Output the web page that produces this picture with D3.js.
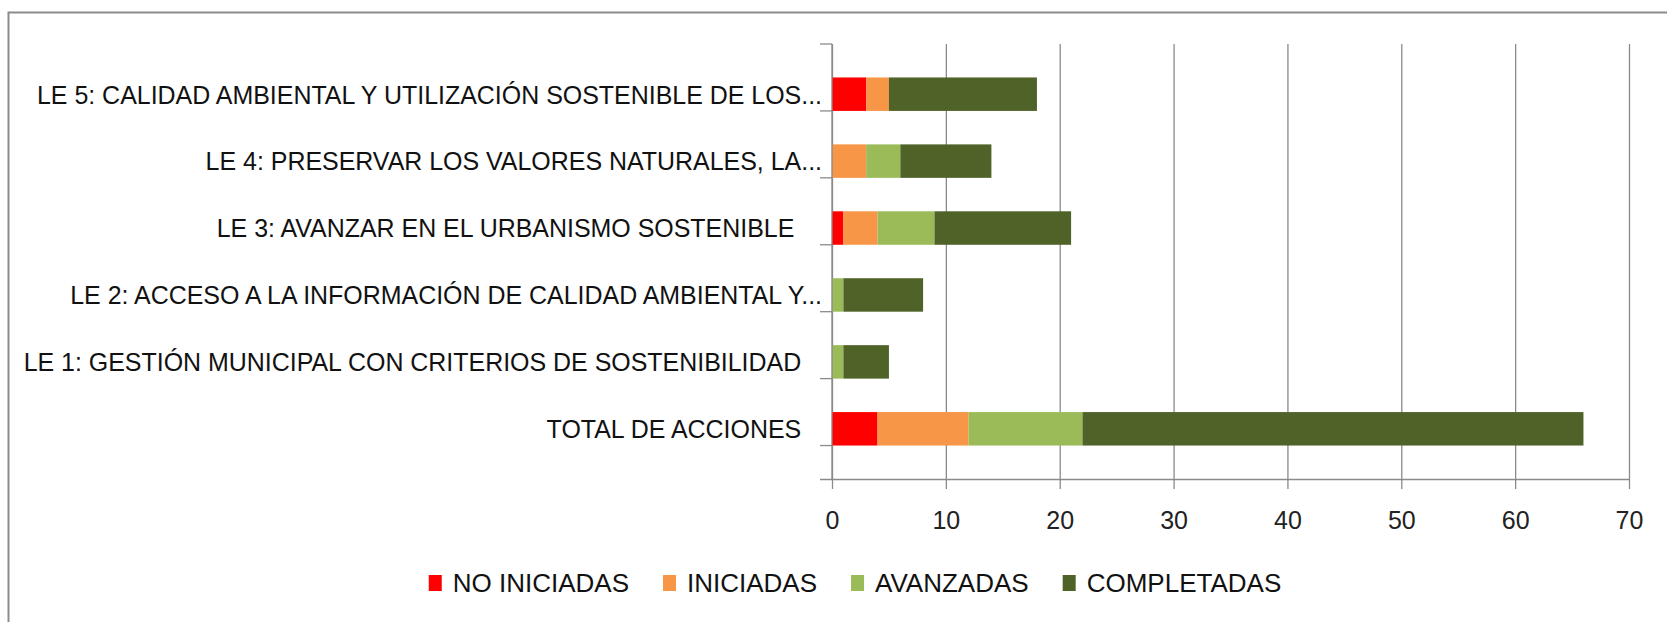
<!DOCTYPE html>
<html>
<head>
<meta charset="utf-8">
<script src="https://cdn.jsdelivr.net/npm/d3@7"></script>
<style>
  html, body { margin: 0; padding: 0; background: #fff; }
  svg { display: block; }
  .cat { font-family: "Liberation Sans Narrow", "Arial Narrow", "Liberation Sans", sans-serif; font-size: 26px; fill: #111; }
  .tick text { font-family: "Liberation Sans", Arial, sans-serif; font-size: 25px; fill: #222; }
  .legend text { font-family: "Liberation Sans Narrow", "Arial Narrow", "Liberation Sans", sans-serif; font-size: 26px; fill: #111; }
</style>
</head>
<body>
<div id="chart"></div>
<script>
// categorias (de arriba a abajo)
const categories = [
  'LE 5: CALIDAD AMBIENTAL Y UTILIZACIÓN SOSTENIBLE DE LOS...',
  'LE 4: PRESERVAR LOS VALORES NATURALES, LA...',
  'LE 3: AVANZAR EN EL URBANISMO SOSTENIBLE\u00a0\u00a0\u00a0\u00a0',
  'LE 2: ACCESO A LA INFORMACIÓN DE CALIDAD AMBIENTAL Y...',
  'LE 1: GESTIÓN MUNICIPAL CON CRITERIOS DE SOSTENIBILIDAD\u00a0\u00a0\u00a0',
  'TOTAL DE ACCIONES\u00a0\u00a0\u00a0'
];
const noIniciadas = [3, 0, 1, 0, 0, 4];
const iniciadas   = [2, 3, 3, 0, 0, 8];
const avanzadas   = [0, 3, 5, 1, 1, 10];
const completadas = [13, 8, 12, 7, 4, 44];
const seriesNames = ['NO INICIADAS', 'INICIADAS', 'AVANZADAS', 'COMPLETADAS'];
const colors = ['#ff0000', '#f79646', '#9bbb59', '#4f6228'];
const xTicks = [0, 10, 20, 30, 40, 50, 60, 70];

const width = 1667;
const height = 622;
const plotLeft = 832;
const plotRight = 1629;
const plotTop = 44;
const plotBottom = 479;

const rows = categories.map((c, i) => ({
  cat: c,
  [seriesNames[0]]: noIniciadas[i],
  [seriesNames[1]]: iniciadas[i],
  [seriesNames[2]]: avanzadas[i],
  [seriesNames[3]]: completadas[i]
}));
const stacked = d3.stack().keys(seriesNames)(rows);

const svg = d3.select('#chart').append('svg')
  .attr('width', width)
  .attr('height', height);

// marco
svg.append('rect')
  .attr('x', 8.5).attr('y', 12.5)
  .attr('width', width + 10).attr('height', height + 10)
  .attr('fill', 'none')
  .attr('stroke', '#8c8c8c')
  .attr('stroke-width', 2);

const x = d3.scaleLinear().domain([0, 70]).range([plotLeft, plotRight]);
const y = d3.scaleBand().domain(categories).range([plotTop, plotBottom]).padding(0.5);

// rejilla
svg.append('g')
  .attr('transform', `translate(0, ${plotBottom})`)
  .call(d3.axisBottom(x).tickValues(xTicks).tickSize(-(plotBottom - plotTop)).tickFormat(''))
  .call(g => g.select('.domain').remove())
  .call(g => g.selectAll('line').attr('stroke', '#8a8a8a').attr('stroke-width', 1.3));

// barras
svg.append('g')
  .selectAll('g')
  .data(stacked)
  .join('g')
  .attr('fill', (d, i) => colors[i])
  .selectAll('rect')
  .data(d => d)
  .join('rect')
  .attr('x', d => x(d[0]))
  .attr('width', d => x(d[1]) - x(d[0]))
  .attr('y', d => y(d.data.cat))
  .attr('height', y.bandwidth());

// eje x
svg.append('g')
  .attr('transform', `translate(0, ${plotBottom})`)
  .call(d3.axisBottom(x).tickValues(xTicks).tickSize(10).tickSizeOuter(0).tickPadding(22))
  .call(g => g.select('.domain').attr('stroke', '#8a8a8a').attr('stroke-width', 1.3)
    .attr('d', `M${plotLeft - 12},0.5H${plotRight}`))
  .call(g => g.selectAll('line').attr('stroke', '#8a8a8a').attr('stroke-width', 1.3));

// eje y
const bounds = d3.range(categories.length + 1).map(i => plotTop + i * y.step());
const yAxis = svg.append('g');
yAxis.append('line')
  .attr('x1', plotLeft).attr('x2', plotLeft)
  .attr('y1', plotTop).attr('y2', plotBottom)
  .attr('stroke', '#8a8a8a').attr('stroke-width', 1.3);
yAxis.selectAll('.ytick')
  .data(bounds)
  .join('line')
  .attr('class', 'ytick')
  .attr('x1', plotLeft - 12).attr('x2', plotLeft)
  .attr('y1', d => d).attr('y2', d => d)
  .attr('stroke', '#8a8a8a').attr('stroke-width', 1.3);

// etiquetas (letra algo estrecha, como en el original)
svg.append('g')
  .selectAll('text')
  .data(categories)
  .join('text')
  .attr('class', 'cat')
  .attr('transform', d => `translate(${plotLeft - 10}, ${y(d) + y.bandwidth() / 2}) scale(0.96, 1)`)
  .attr('dy', '0.36em')
  .attr('text-anchor', 'end')
  .text(d => d);

// leyenda
const legend = svg.append('g').attr('class', 'legend');
const items = legend.selectAll('g')
  .data(seriesNames)
  .join('g');
items.append('rect')
  .attr('width', 13).attr('height', 16)
  .attr('y', -8)
  .attr('fill', (d, i) => colors[i]);
items.append('text')
  .attr('x', 24)
  .attr('dy', '0.36em')
  .text(d => d);

let pos = 0;
items.each(function() {
  const w = d3.select(this).select('text').node().getComputedTextLength();
  d3.select(this).attr('transform', `translate(${pos}, 0)`);
  pos += 24 + w + 34;
});
const total = pos - 34;
legend.attr('transform', `translate(${855 - total / 2}, 583)`);
</script>
</body>
</html>
